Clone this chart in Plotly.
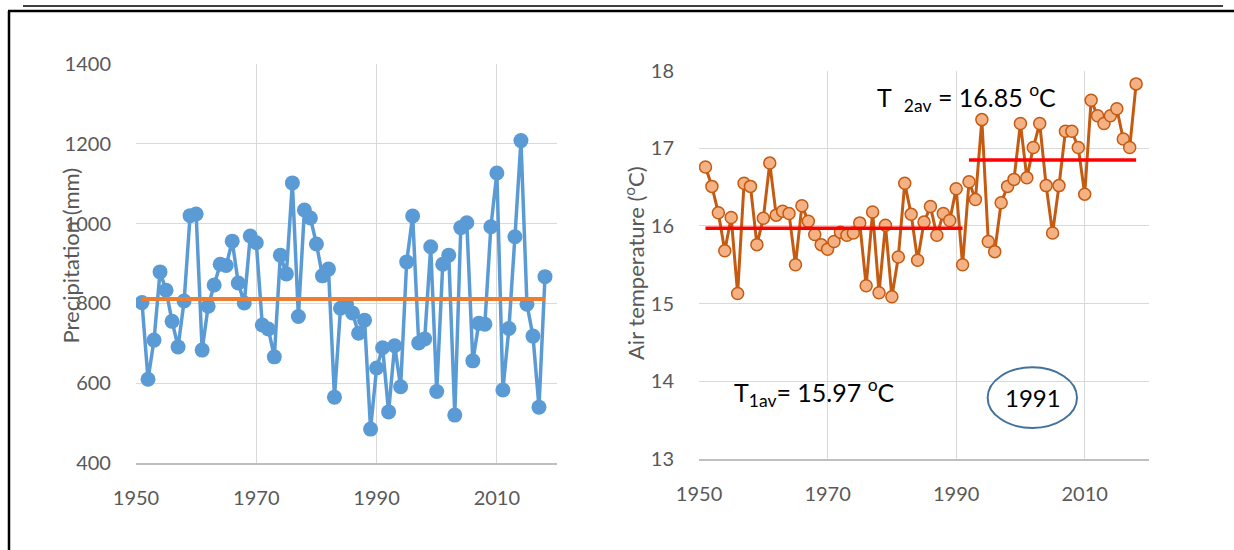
import plotly.graph_objects as go

years = list(range(1951, 2019))

precip = [802, 610, 708, 879, 833, 755, 691, 806, 1020, 1024,
          683, 793, 846, 898, 895, 956, 851, 801, 969, 952,
          746, 736, 666, 921, 874, 1102, 767, 1034, 1014, 949,
          869, 886, 565, 788, 797, 776, 725, 758, 485, 638,
          689, 528, 694, 591, 904, 1019, 701, 711, 942, 579,
          898, 921, 520, 990, 1002, 656, 750, 748, 992, 1127,
          583, 737, 967, 1208, 798, 718, 540, 867]

temp = [16.76, 16.51, 16.17, 15.68, 16.11, 15.13, 16.55, 16.51, 15.76, 16.10,
        16.81, 16.14, 16.19, 16.16, 15.50, 16.26, 16.06, 15.89, 15.76, 15.70,
        15.80, 15.92, 15.88, 15.91, 16.04, 15.23, 16.18, 15.14, 16.01, 15.09,
        15.60, 16.55, 16.15, 15.56, 16.05, 16.25, 15.88, 16.16, 16.07, 16.48,
        15.50, 16.57, 16.34, 17.37, 15.80, 15.67, 16.30, 16.51, 16.60, 17.32,
        16.62, 17.01, 17.32, 16.52, 15.91, 16.52, 17.22, 17.22, 17.01, 16.41,
        17.62, 17.42, 17.32, 17.42, 17.51, 17.12, 17.01, 17.83]

precip_mean_years = [1951, 2018]
precip_mean = 811

t1_years = [1951, 1991]
t1_mean = 15.97
t2_years = [1992, 2018]
t2_mean = 16.85

x_ticks = [1950, 1970, 1990, 2010]
precip_ticks = [400, 600, 800, 1000, 1200, 1400]
temp_ticks = [13, 14, 15, 16, 17, 18]

FONT = "Lato"
TICKCOL = "#595959"
GRID = "#D9D9D9"

fig = go.Figure()

fig.add_trace(go.Scatter(
    x=years, y=precip, mode="lines+markers",
    line=dict(color="#5B9BD5", width=3.5),
    marker=dict(color="#5B9BD5", size=15),
    xaxis="x", yaxis="y", showlegend=False))
fig.add_trace(go.Scatter(
    x=precip_mean_years, y=[precip_mean] * 2, mode="lines",
    line=dict(color="#ED7D31", width=4),
    xaxis="x", yaxis="y", showlegend=False))

fig.add_trace(go.Scatter(
    x=years, y=temp, mode="lines+markers",
    line=dict(color="#C55A11", width=3),
    marker=dict(color="#F4B183", size=12, line=dict(color="#C55A11", width=1.5)),
    xaxis="x2", yaxis="y2", showlegend=False))
fig.add_trace(go.Scatter(
    x=t1_years, y=[t1_mean] * 2, mode="lines",
    line=dict(color="#FF0000", width=3.5),
    xaxis="x2", yaxis="y2", showlegend=False))
fig.add_trace(go.Scatter(
    x=t2_years, y=[t2_mean] * 2, mode="lines",
    line=dict(color="#FF0000", width=3.5),
    xaxis="x2", yaxis="y2", showlegend=False))

xcommon = dict(range=[1950, 2020], tickvals=x_ticks, showgrid=True, gridcolor=GRID,
               gridwidth=1, showline=True, linecolor="#BFBFBF", linewidth=1.5,
               zeroline=False, ticks="", ticklabelstandoff=16, automargin=False,
               tickfont=dict(family=FONT, size=20, color=TICKCOL))
ycommon = dict(showgrid=True, gridcolor=GRID, gridwidth=1, showline=False,
               zeroline=False, ticks="", ticklabelstandoff=24, automargin=False,
               tickfont=dict(family=FONT, size=20, color=TICKCOL))

fig.update_layout(
    width=1234, height=550, autosize=False,
    margin=dict(l=0, r=0, t=0, b=0, pad=0, autoexpand=False),
    paper_bgcolor="white", plot_bgcolor="white",
    font=dict(family=FONT),
    xaxis=dict(domain=[0.1102, 0.4514], anchor="y", **xcommon),
    yaxis=dict(domain=[0.1582, 0.8836], anchor="x", range=[400, 1400],
               tickvals=precip_ticks, **ycommon),
    xaxis2=dict(domain=[0.5665, 0.9311], anchor="y2", **xcommon),
    yaxis2=dict(domain=[0.1655, 0.8715], anchor="x2", range=[13, 18],
                tickvals=temp_ticks, **ycommon),
)

# axis titles
fig.add_annotation(text="Precipitation (mm)", xref="paper", yref="paper",
                   x=54 / 1234, y=1 - 256 / 550, textangle=-90, showarrow=False,
                   font=dict(family=FONT, size=22, color=TICKCOL))
fig.add_annotation(text="Air temperature (<sup>o</sup>C)", xref="paper", yref="paper",
                   x=634 / 1234, y=1 - 263 / 550, textangle=-90, showarrow=False,
                   font=dict(family=FONT, size=22, color=TICKCOL))

# in-chart labels
fig.add_annotation(text="T<sub>1av</sub>= 15.97 <sup>o</sup>C", xref="x2", yref="y2",
                   x=1955.2, y=13.85, xanchor="left", yanchor="middle", showarrow=False,
                   font=dict(family=FONT, size=25, color="black"))
fig.add_annotation(text="T&nbsp;&nbsp;<sub>2av</sub> =&nbsp;16.85 <sup>o</sup>C", xref="x2", yref="y2",
                   x=1977.3, y=17.66, xanchor="left", yanchor="middle", showarrow=False,
                   font=dict(family=FONT, size=25, color="black"))
fig.add_shape(type="circle", xref="x2", yref="y2",
              x0=1994.9, x1=2008.8, y0=13.40, y1=14.18,
              line=dict(color="#41719C", width=2))
fig.add_annotation(text="1991", xref="x2", yref="y2", x=2001.9, y=13.79,
                   showarrow=False, font=dict(family=FONT, size=24, color="black"))

# frame lines
fig.add_shape(type="line", xref="paper", yref="paper", x0=23 / 1234, x1=1223 / 1234,
              y0=1 - 6 / 550, y1=1 - 6 / 550, line=dict(color="black", width=1.5))
fig.add_shape(type="line", xref="paper", yref="paper", x0=8 / 1234, x1=1,
              y0=1 - 11 / 550, y1=1 - 11 / 550, line=dict(color="black", width=2.5))
fig.add_shape(type="line", xref="paper", yref="paper", x0=9 / 1234, x1=9 / 1234,
              y0=0, y1=1 - 11 / 550, line=dict(color="black", width=2.5))

fig.write_html("out.html", config={"displayModeBar": False},
               post_script="document.body.style.margin='0px';")
